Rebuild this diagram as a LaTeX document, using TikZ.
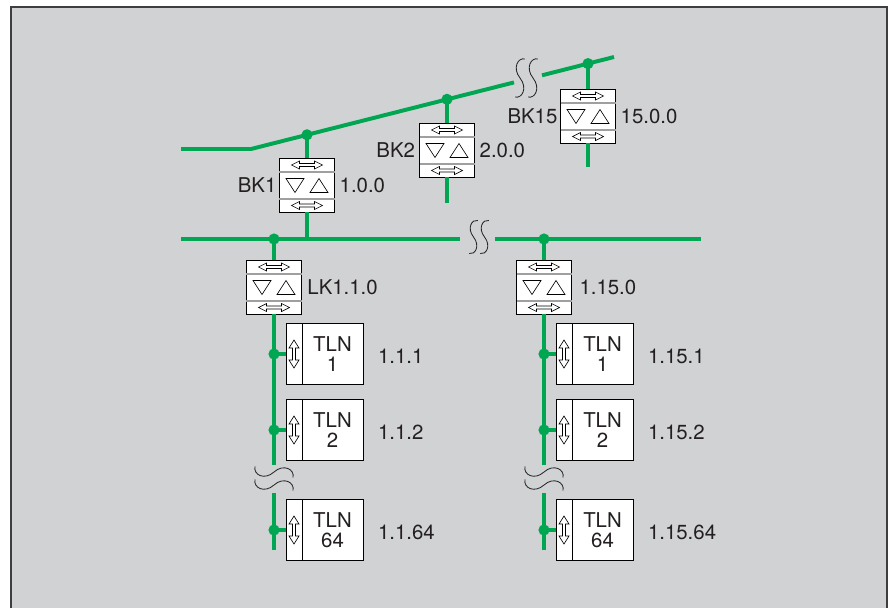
\documentclass[tikz,border=0pt]{standalone}
\usepackage{fontspec}
\setmainfont{TeX Gyre Heros}
\usetikzlibrary{positioning}

\definecolor{busgreen}{RGB}{0,166,81}
\definecolor{panelgray}{RGB}{209,210,212}
\definecolor{framegray}{RGB}{62,62,64}
\definecolor{textgray}{RGB}{35,31,32}

\begin{document}
\begin{tikzpicture}[
    x=0.025cm, y=-0.025cm,
    every node/.style={font=\fontsize{14.5}{14.5}\selectfont, text=textgray},
    bus/.style={busgreen, line width=2.8pt},
    breakline/.style={black!85, line width=0.6pt},
    symb/.style={draw=black, fill=white, line width=0.45pt},
    divider/.style={gray!75, line width=0.9pt},
    coupler/.style={draw=black, fill=white, line width=0.6pt,
        minimum width=1.375cm, minimum height=1.35cm,
        inner sep=0pt, outer sep=0pt},
    tlnbox/.style={draw=black, fill=white, line width=0.6pt,
        minimum width=1.525cm, minimum height=1.525cm,
        inner sep=0pt, outer sep=0pt, align=center},
    tlnstrip/.style={draw=black, fill=white, line width=0.6pt,
        minimum width=0.4cm, minimum height=1.525cm,
        inner sep=0pt, outer sep=0pt},
    addr/.style={inner sep=0pt},
    harrow/.pic={\draw[symb] (-15.5,0) -- (-7.5,-4) -- (-7.5,-1.5) -- (7.5,-1.5)
        -- (7.5,-4) -- (15.5,0) -- (7.5,4) -- (7.5,1.5) -- (-7.5,1.5)
        -- (-7.5,4) -- cycle;},
    varrow/.pic={\draw[symb] (0,-14) -- (5,-6) -- (1.5,-6) -- (1.5,6)
        -- (5,6) -- (0,14) -- (-5,6) -- (-1.5,6) -- (-1.5,-6)
        -- (-5,-6) -- cycle;},
    tridown/.pic={\draw[symb] (-9,-7) -- (9,-7) -- (0,7) -- cycle;},
    triup/.pic={\draw[symb] (-9,7) -- (9,7) -- (0,-7) -- cycle;},
    breakS/.pic={\draw[breakline, scale=#1] (0.26,-1)
        .. controls (-0.1,-1.1) and (-0.42,-0.53) .. (0,0)
        .. controls (0.42,0.53) and (0.1,1.1) .. (-0.26,1);},
    breakW/.pic={\draw[breakline, scale=#1] (-1,-0.3)
        .. controls (-1.1,0.15) and (-0.5,0.45) .. (0,0)
        .. controls (0.5,-0.45) and (1.1,-0.15) .. (1,0.3);}
]

\useasboundingbox (0,0) rectangle (892,608);

% ============================================================
% Rahmen
% ============================================================

\fill[panelgray] (11,7) rectangle (887,608);
\draw[framegray, line width=1.5pt] (11,608) -- (11,7) -- (887,7) -- (887,608);

% ============================================================
% Bereichslinie (oben) und Hauptlinie
% ============================================================

\coordinate (bbA) at (181,149);
\coordinate (bbB) at (251,149);
\coordinate (bbC) at (514,82.4);
\coordinate (bbD) at (542,75.3);
\coordinate (bbE) at (614,57);

\draw[bus] (bbA) -- (bbB) -- (bbC);
\draw[bus] (bbD) -- (bbE);
\pic at (520,78) {breakS=19};
\pic at (533,78) {breakS=19};

\coordinate (mlA) at (181,239);
\coordinate (mlB) at (460,239);
\coordinate (mlC) at (495,239);
\coordinate (mlD) at (701,239);

\draw[bus] (mlA) -- (mlB);
\draw[bus] (mlC) -- (mlD);
\pic at (473.5,237) {breakS=16.5};
\pic at (484.5,237) {breakS=16.5};

% Abzweigpunkte
\coordinate (d1) at (307,134.8);
\coordinate (d2) at (447,99.3);
\coordinate (d15) at (588,63.6);
\coordinate (m1) at (274,239);
\coordinate (m15) at (544,239);
\coordinate (j1) at (307,239);
\coordinate (e2) at (447,203);
\coordinate (e15) at (588,167);

% ============================================================
% Bereichskoppler und Linienkoppler
% ============================================================

\node[coupler] (bk1) at (307,185) {};
\node[coupler] (bk2) at (447,150) {};
\node[coupler] (bk15) at (588,116) {};
\node[coupler] (lk1) at (274,287) {};
\node[coupler] (lk15) at (544,287) {};

\draw[bus] (d1) -- (bk1.north);
\draw[bus] (bk1.south) -- (j1);
\draw[bus] (d2) -- (bk2.north);
\draw[bus] (bk2.south) -- (e2);
\draw[bus] (d15) -- (bk15.north);
\draw[bus] (bk15.south) -- (e15);
\draw[bus] (m1) -- (lk1.north);
\draw[bus] (m15) -- (lk15.north);

\foreach \d in {d1,d2,d15,m1,m15}
    \fill[busgreen] (\d) circle (0.14cm);

\foreach \n in {bk1,bk2,bk15,lk1,lk15} {
    \draw[divider] ([yshift=-0.35cm]\n.north west) -- ([yshift=-0.35cm]\n.north east);
    \draw[divider] ([yshift=0.325cm]\n.south west) -- ([yshift=0.325cm]\n.south east);
    \path (\n.north) ++(0,7) pic {harrow};
    \path (\n.south) ++(0,-6.5) pic {harrow};
    \path (\n.center) ++(-12,0.5) pic {tridown};
    \path (\n.center) ++(12,0.5) pic {triup};
}

\node[addr, left=2pt of bk1] (nbk1) {BK1};
\node[addr, right=3.5pt of bk1] (abk1) {1.0.0};
\node[addr, left=3pt of bk2] (nbk2) {BK2};
\node[addr, right=3.5pt of bk2] (abk2) {2.0.0};
\node[addr, left=2pt of bk15] (nbk15) {BK15};
\node[addr, right=3.5pt of bk15] (abk15) {15.0.0};
\node[addr, right=4pt of lk1] (alk1) {LK1.1.0};
\node[addr, right=5.5pt of lk15] (alk15) {1.15.0};

% ============================================================
% Linien mit Teilnehmern
% ============================================================

\foreach \col/\xb in {1/274, 15/544} {
    \coordinate (u\col) at (\xb,465);
    \coordinate (v\col) at (\xb,493);
    \coordinate (w\col) at (\xb,550);
    \draw[bus] (lk\col.south) -- (u\col);
    \draw[bus] (v\col) -- (w\col);
    \pic at (\xb,472) {breakW=19};
    \pic at (\xb,485) {breakW=19};
}

\foreach \col/\xb in {1/274, 15/544} {
    \foreach \k/\yb in {1/354, 2/430, 64/530} {
        \coordinate (p\col-\k) at (\xb,\yb);
        \node[tlnbox] (tln\col-\k) at (\xb+58.5,\yb) {TLN\\\k};
        \node[tlnstrip, left=0pt of tln\col-\k] (s\col-\k) {};
        \path (s\col-\k.center) pic {varrow};
        \draw[bus] (p\col-\k) -- (s\col-\k.west);
        \fill[busgreen] (p\col-\k) circle (0.14cm);
        \node[addr, right=10.5pt of tln\col-\k, yshift=-1.5pt] (a\col-\k) {1.\col.\k};
    }
}

\end{tikzpicture}
\end{document}
